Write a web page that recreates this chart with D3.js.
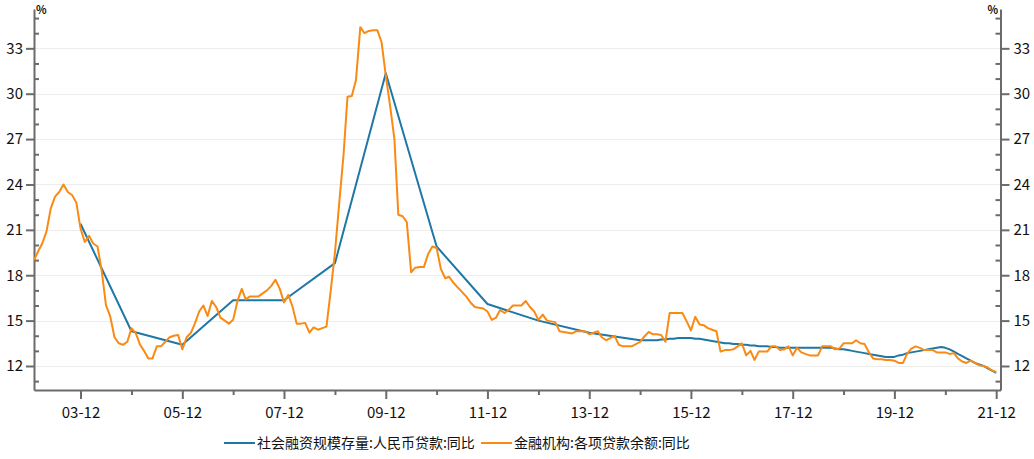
<!DOCTYPE html>
<html>
<head>
<meta charset="UTF-8">
<title>贷款同比</title>
<style>
    body { margin: 0; background: #fff; }
    svg text { font-family: "Noto Sans CJK SC", "Noto Sans", sans-serif; fill: #111; }
    .grid line { stroke: #ececec; stroke-width: 1px; }
    .axis path, .axis line { stroke: #6b6b6b; }
</style>
</head>
<body>
<svg width="1034" height="459"></svg>
<script src="https://d3js.org/d3.v7.min.js"></script>
<script>

    // 金融机构:各项贷款余额:同比, monthly from 2003-01
    var loanStart = "2003-01";
    var loanValues = [
        19.0, 19.6, 20.1, 20.9, 22.4, 23.2, 23.5, 24.0, 23.5, 23.3, 22.8, 21.1,
        20.2, 20.6, 20.1, 19.9, 18.3, 16.0, 15.3, 13.9, 13.5, 13.4, 13.6, 14.5,
        14.15, 13.4, 13.0, 12.5, 12.5, 13.3, 13.3, 13.6, 13.9, 14.0, 14.05, 13.1,
        13.9, 14.2, 14.8, 15.6, 16.0, 15.3, 16.3, 15.9, 15.2, 15.0, 14.8, 15.05,
        16.3, 17.1, 16.4, 16.6, 16.6, 16.6, 16.8, 17.0, 17.3, 17.7, 17.1, 16.2,
        16.7, 15.9, 14.8, 14.8, 14.85, 14.2, 14.55, 14.4, 14.5, 14.6, 17.0, 19.5,
        22.8, 26.0, 29.8, 29.85, 30.9, 34.4, 34.0, 34.15, 34.2, 34.2, 33.4, 31.2,
        29.2, 27.0, 22.0, 21.9, 21.5, 18.2, 18.5, 18.55, 18.55, 19.4, 19.9, 19.8,
        18.4, 17.8, 17.9, 17.5, 17.2, 16.9, 16.6, 16.2, 15.9, 15.85, 15.8, 15.6,
        15.05, 15.2, 15.7, 15.5, 15.7, 16.0, 16.0, 16.0, 16.3, 15.9, 15.6, 15.05,
        15.4, 15.0, 14.95, 14.9, 14.3, 14.25, 14.2, 14.15, 14.3, 14.3, 14.3, 14.1,
        14.2, 14.3, 13.9, 13.7, 13.85, 14.0, 13.4, 13.3, 13.3, 13.3, 13.45, 13.6,
        13.95, 14.25, 14.1, 14.1, 14.05, 13.6, 15.5, 15.5, 15.5, 15.5, 14.95, 14.35,
        15.25, 14.75, 14.7, 14.5, 14.4, 14.3, 12.95, 13.05, 13.05, 13.1, 13.3, 13.5,
        12.7, 13.0, 12.4, 12.95, 12.95, 12.95, 13.3, 13.3, 13.05, 13.1, 13.3, 12.7,
        13.2, 12.9, 12.8, 12.7, 12.7, 12.7, 13.3, 13.3, 13.3, 13.1, 13.15, 13.5,
        13.5, 13.5, 13.7, 13.5, 13.45, 12.9, 12.5, 12.45, 12.45, 12.4, 12.4, 12.35,
        12.2, 12.2, 12.8, 13.15, 13.3, 13.2, 13.05, 13.05, 13.05, 12.9, 12.9, 12.9,
        12.8, 12.85, 12.5, 12.3, 12.2, 12.35, 12.2, 12.05, 12.0, 11.9, 11.7, 11.6
    ];

    // 社会融资规模存量:人民币贷款:同比, year-end up to 2014, then monthly
    var tsfYearEnd = ["2003-12", "2004-12", "2005-12", "2006-12", "2007-12", "2008-12",
                      "2009-12", "2010-12", "2011-12", "2012-12", "2013-12", "2014-12"];
    var tsfYearEndValues = [21.4, 14.3, 13.4, 16.35, 16.35, 18.8, 31.35, 19.9, 16.1, 15.0, 14.2, 13.7];
    var tsfMonthlyStart = "2015-01";
    var tsfMonthlyValues = [
        13.7, 13.7, 13.7, 13.7, 13.75, 13.75, 13.8, 13.8, 13.85, 13.85, 13.85, 13.85,
        13.8, 13.8, 13.75, 13.7, 13.65, 13.6, 13.55, 13.5, 13.5, 13.45, 13.45, 13.4,
        13.4, 13.35, 13.35, 13.3, 13.3, 13.3, 13.25, 13.25, 13.2, 13.2, 13.2, 13.2,
        13.2, 13.2, 13.2, 13.2, 13.2, 13.2, 13.2, 13.2, 13.2, 13.15, 13.1, 13.1,
        13.05, 13.0, 12.95, 12.9, 12.85, 12.8, 12.75, 12.7, 12.65, 12.6, 12.6, 12.6,
        12.7, 12.75, 12.85, 12.9, 12.95, 13.0, 13.05, 13.1, 13.15, 13.2, 13.25, 13.2,
        13.1, 12.95, 12.8, 12.65, 12.5, 12.35, 12.2, 12.1, 12.0, 11.85, 11.7, 11.55
    ];

    var seriesNames = ["社会融资规模存量:人民币贷款:同比", "金融机构:各项贷款余额:同比"];
    var seriesColors = ["#1f77a6", "#f98a14"];
    var xTickYears = d3.range(2003, 2022); // December ticks
    var yTicks = [12, 15, 18, 21, 24, 27, 30, 33];

    var parseMonth = d3.timeParse("%Y-%m");
    function monthSeries(start, values) {
        var s = parseMonth(start);
        return values.map(function(v, i) {
            return { date: d3.timeMonth.offset(s, i), value: v };
        });
    }

    var loanData = monthSeries(loanStart, loanValues);
    var tsfData = tsfYearEnd.map(function(d, i) {
        return { date: parseMonth(d), value: tsfYearEndValues[i] };
    }).concat(monthSeries(tsfMonthlyStart, tsfMonthlyValues));

    var svg = d3.select("svg");
    var plotLeft = 34, plotRight = 1000.5, plotTop = 9, plotBottom = 390;

    var x = d3.scaleTime()
        .domain([parseMonth("2003-01"), parseMonth("2022-01")])
        .range([plotLeft, plotRight]);
    var y = d3.scaleLinear()
        .domain([10.413, 35.6])
        .range([plotBottom, plotTop]);

    // grid
    svg.append("g").attr("class", "grid")
        .selectAll("line").data(yTicks).enter().append("line")
        .attr("x1", plotLeft).attr("x2", plotRight)
        .attr("y1", function(d) { return Math.round(y(d)) + 0.5; })
        .attr("y2", function(d) { return Math.round(y(d)) + 0.5; });

    var minorY = d3.range(11, 36).filter(function(v) { return v % 3 !== 0; });
    var tickDates = xTickYears.map(function(yr) { return new Date(yr, 11, 1); });

    // left axis
    var gl = svg.append("g").attr("class", "axis")
        .attr("transform", "translate(" + plotLeft + ",0)");
    gl.call(d3.axisLeft(y).tickValues(yTicks).tickSize(8).tickSizeOuter(0).tickPadding(3)
        .tickFormat(d3.format("d")));
    gl.append("g").call(d3.axisRight(y).tickValues(minorY).tickSize(5).tickFormat(""))
        .select(".domain").remove();

    // right axis
    var gr = svg.append("g").attr("class", "axis")
        .attr("transform", "translate(" + plotRight + ",0)");
    gr.call(d3.axisRight(y).tickValues(yTicks).tickSize(9).tickSizeOuter(0).tickPadding(4)
        .tickFormat(d3.format("d")));
    gr.append("g").call(d3.axisLeft(y).tickValues(minorY).tickSize(5).tickFormat(""))
        .select(".domain").remove();

    // bottom axis
    var gb = svg.append("g").attr("class", "axis")
        .attr("transform", "translate(0," + plotBottom + ")");
    gb.call(d3.axisBottom(x).tickValues(tickDates.filter(function(d, i) { return i % 2 === 0; }))
        .tickSize(9).tickSizeOuter(0).tickPadding(8).tickFormat(d3.timeFormat("%y-%m")));
    gb.append("g").call(d3.axisBottom(x).tickValues(tickDates.filter(function(d, i) { return i % 2 === 1; }))
        .tickSize(5).tickFormat(""))
        .select(".domain").remove();

    svg.selectAll(".axis path, .axis line").attr("stroke-width", 2);
    svg.selectAll(".axis text").attr("font-size", 15).attr("fill", "#111");

    svg.append("text").attr("x", 36).attr("y", 14).attr("font-size", 11)
        .attr("font-weight", "bold").text("%");
    svg.append("text").attr("x", 998).attr("y", 14).attr("font-size", 11)
        .attr("font-weight", "bold").attr("text-anchor", "end").text("%");

    // lines
    var line = d3.line()
        .x(function(d) { return x(d.date); })
        .y(function(d) { return y(d.value); });

    [tsfData, loanData].forEach(function(data, i) {
        svg.append("path")
            .datum(data)
            .attr("fill", "none")
            .attr("stroke", seriesColors[i])
            .attr("stroke-width", 2)
            .attr("stroke-linejoin", "round")
            .attr("d", line);
    });

    // legend
    var legendX = [224, 481];
    var legend = svg.append("g").selectAll("g")
        .data(seriesNames).enter().append("g")
        .attr("transform", function(d, i) { return "translate(" + legendX[i] + ",443)"; });
    legend.append("line")
        .attr("x1", 0).attr("x2", 31)
        .attr("stroke", function(d, i) { return seriesColors[i]; })
        .attr("stroke-width", 2);
    legend.append("text")
        .attr("x", 33).attr("dy", "0.35em")
        .attr("font-size", 14)
        .text(function(d) { return d; });

</script>
</body>
</html>
